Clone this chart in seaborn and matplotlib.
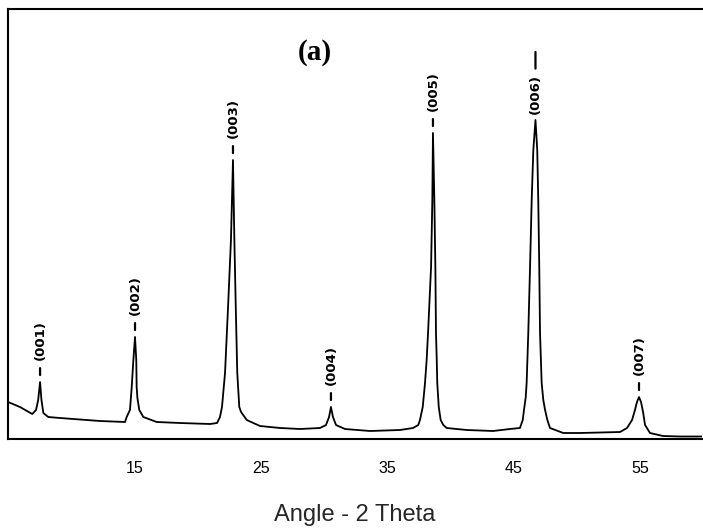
import matplotlib
matplotlib.use("Agg")
import matplotlib.pyplot as plt
import pandas as pd
import seaborn as sns

# ---- data (2-theta in degrees, intensity in arbitrary units) ----
two_theta = [4.94, 5.89, 6.86, 7.16, 7.33, 7.48, 7.59, 7.74, 8.13, 9.06, 12.23, 14.21,
             14.34, 14.60, 14.74, 14.87, 15.00, 15.10, 15.13, 15.19, 15.34, 15.66, 16.72,
             18.56, 20.94, 21.50, 21.73, 21.89, 22.13, 22.37, 22.60, 22.76, 22.87, 22.98,
             23.10, 23.26, 23.40, 23.85, 24.90, 26.49, 28.07, 29.65, 30.13, 30.37, 30.52,
             30.68, 30.92, 31.63, 33.61, 35.99, 37.02, 37.44, 37.57, 37.79, 37.97, 38.10,
             38.21, 38.45, 38.55, 38.60, 38.71, 38.79, 38.84, 38.90, 38.94, 39.06, 39.21,
             39.42, 39.69, 41.27, 43.36, 44.70, 45.49, 45.71, 45.81, 45.95, 46.02, 46.15,
             46.29, 46.42, 46.55, 46.72, 46.86, 46.94, 47.02, 47.08, 47.21, 47.34, 47.48,
             47.66, 47.87, 48.92, 50.25, 53.42, 53.97, 54.37, 54.60, 54.76, 54.92, 55.08,
             55.24, 55.40, 55.79, 56.82, 58.17, 59.91]
intensity = [37, 32, 25, 29, 39, 57, 39, 26, 22, 21, 18, 17,
             22, 29, 52, 79, 102, 79, 52, 41, 29, 22, 17,
             16, 15, 16, 22, 32, 66, 132, 199, 279, 199, 132,
             66, 32, 27, 19, 13, 11, 10, 11, 14, 22, 32,
             22, 14, 10, 8, 9, 11, 14, 19, 32, 56, 79,
             106, 172, 239, 306, 239, 172, 106, 79, 56, 32, 19,
             14, 11, 9, 8, 10, 11, 19, 29, 42, 56, 106,
             172, 239, 289, 319, 289, 239, 172, 106, 56, 39, 29,
             19, 11, 6, 6, 7, 11, 19, 29, 37, 42, 37,
             27, 14, 6, 3, 2.5, 2.5]

peak_hkl = ["(001)", "(002)", "(003)", "(004)", "(005)", "(006)", "(007)"]
peak_pos = [7.48, 15.00, 22.76, 30.52, 38.60, 46.72, 54.92]
peak_int = [57, 102, 279, 32, 306, 319, 42]

tick_values = [15, 25, 35, 45, 55]
tick_labels = ["15", "25", "35", "45", "55"]
x_label = "Angle - 2 Theta"
panel_label = "(a)"

# ---- figure ----
sns.set_theme(style="white")
plt.rcParams["font.family"] = ["Liberation Sans", "DejaVu Sans"]

fig = plt.figure(figsize=(7.03, 5.32), dpi=100)
ax = fig.add_axes([8 / 703, 93 / 532, 694 / 703, 430 / 532])

df = pd.DataFrame({"two_theta": two_theta, "intensity": intensity})
sns.lineplot(data=df, x="two_theta", y="intensity", sort=False, estimator=None,
             color="black", linewidth=1.3, ax=ax)

ax.set_xlim(4.94, 59.91)
ax.set_ylim(0, 430)
ax.set_yticks([])
ax.set_xticks(tick_values)
ax.set_xticklabels(tick_labels, fontsize=11.5)
ax.tick_params(axis="x", direction="out", length=3, width=1.2, pad=13, colors="black")
ax.set_xlabel(x_label, fontsize=17, labelpad=20)
ax.set_ylabel("")

for side in ["left", "bottom", "top"]:
    ax.spines[side].set_visible(True)
    ax.spines[side].set_color("black")
    ax.spines[side].set_linewidth(1.5)
ax.spines["right"].set_visible(False)

# peak labels with small dashes
for hkl, pos, inten in zip(peak_hkl, peak_pos, peak_int):
    if hkl == "(006)":
        label_off, dash_lo, dash_hi = 4.5, 37, 49
    else:
        label_off, dash_lo, dash_hi = 16, 5, 10
    ax.annotate(hkl, xy=(pos, inten), xytext=(0, label_off), textcoords="offset points",
                rotation=90, ha="center", va="bottom", fontsize=9.5,
                fontweight="bold", family="DejaVu Sans", color="black")
    ax.annotate("", xy=(pos, inten), xytext=(0, dash_hi), textcoords="offset points",
                arrowprops=dict(arrowstyle="-", color="black", lw=1.6,
                                shrinkA=0, shrinkB=dash_lo))

ax.text(0.442, 0.90, panel_label, transform=ax.transAxes, ha="center", va="center",
        fontsize=21, fontweight="bold", family="Liberation Serif", color="black")

fig.savefig("out.png", dpi=100)
